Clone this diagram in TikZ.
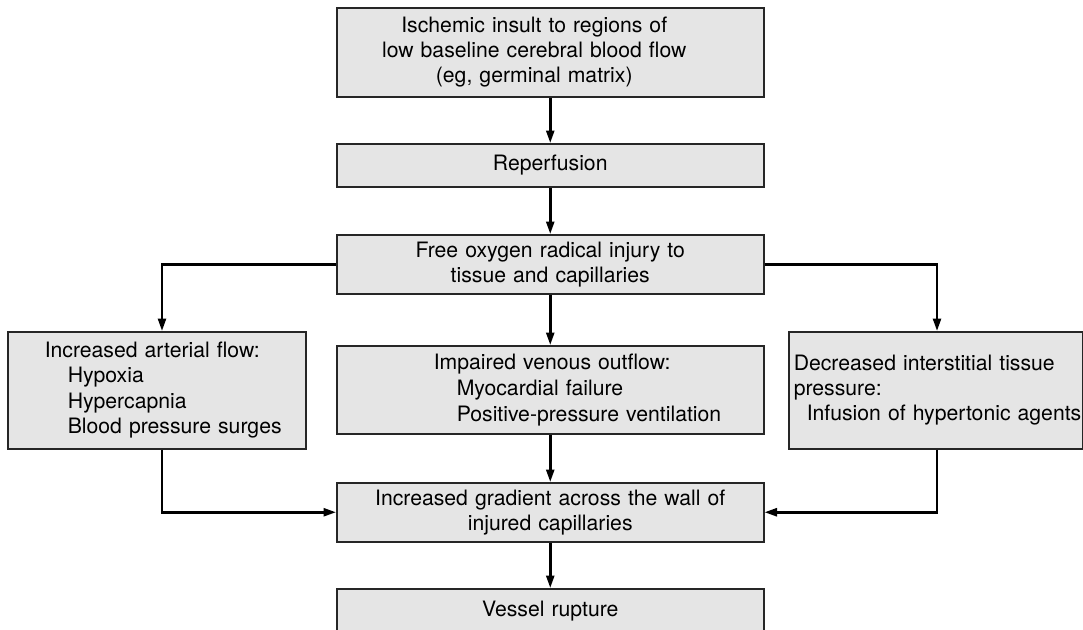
\documentclass[tikz,border=0pt]{standalone}
\usepackage{fontspec}
\setmainfont{TeX Gyre Heros}
\usetikzlibrary{arrows.meta}
\definecolor{boxfill}{HTML}{E5E5E5}
\begin{document}
\begin{tikzpicture}[x=1pt,y=-1pt,
  box/.style={draw=black!85, line width=1.5pt, fill=boxfill, inner sep=0pt, anchor=north west,
    font=\fontsize{21.2}{24.8}\selectfont},
  cbox/.style={box, minimum width=427pt, text width=427pt, align=center},
  lbox/.style={box, align=left},
  arr/.style={line width=2.5pt, -{Triangle[length=12.5pt,width=8pt]}}]
\useasboundingbox (0,0) rectangle (1083,629);
\clip (0,0) rectangle (1083,629);
\coordinate (lc) at (162,0);
\coordinate (rc) at (937,0);
\node[cbox, minimum height=89pt] (top) at (336,7)
  {\hspace*{-32pt}Ischemic insult to regions of\\\hspace*{-32pt}low baseline cerebral blood flow\\\hspace*{-32pt}(eg, germinal matrix)};
\node[cbox, minimum height=43pt] (rep) at (336,143) {Reperfusion};
\node[cbox, minimum height=59pt] (free) at (336,234)
  {Free oxygen radical injury to\\tissue and capillaries};
\node[lbox, minimum width=427pt, text width=427pt, minimum height=88pt,
  font=\fontsize{21.2}{26}\selectfont] (ven) at (336,345)
  {\hspace*{97pt}Impaired venous outflow:\\\hspace*{120pt}Myocardial failure\\\hspace*{120pt}Positive-pressure ventilation};
\node[lbox, minimum width=298pt, text width=298pt, minimum height=117pt,
  font=\fontsize{21.2}{25.5}\selectfont] (art) at (7,331)
  {\hspace*{37pt}Increased arterial flow:\\\hspace*{60pt}Hypoxia\\\hspace*{60pt}Hypercapnia\\\hspace*{60pt}Blood pressure surges};
\node[lbox, minimum width=294pt, text width=294pt, minimum height=117pt,
  font=\fontsize{21.2}{25}\selectfont] (int) at (788,331)
  {\hspace*{5pt}Decreased interstitial tissue\\\hspace*{5pt}pressure:\\\hspace*{18pt}Infusion of hypertonic agents};
\node[cbox, minimum height=59pt] (grad) at (336,482)
  {Increased gradient across the wall of\\injured capillaries};
\node[cbox, minimum height=44pt] (rup) at (336,588) {Vessel rupture};
\draw[arr] (top) -- (rep);
\draw[arr] (rep) -- (free);
\draw[arr] (free) -- (ven);
\draw[arr] (ven) -- (grad);
\draw[arr] (grad) -- (rup);
\draw[arr] (free.west) -| (art.north -| lc);
\draw[arr] (free.east) -| (int.north -| rc);
\draw[arr] (art.south -| lc) |- (grad.west);
\draw[arr] (int.south -| rc) |- (grad.east);
\end{tikzpicture}
\end{document}
